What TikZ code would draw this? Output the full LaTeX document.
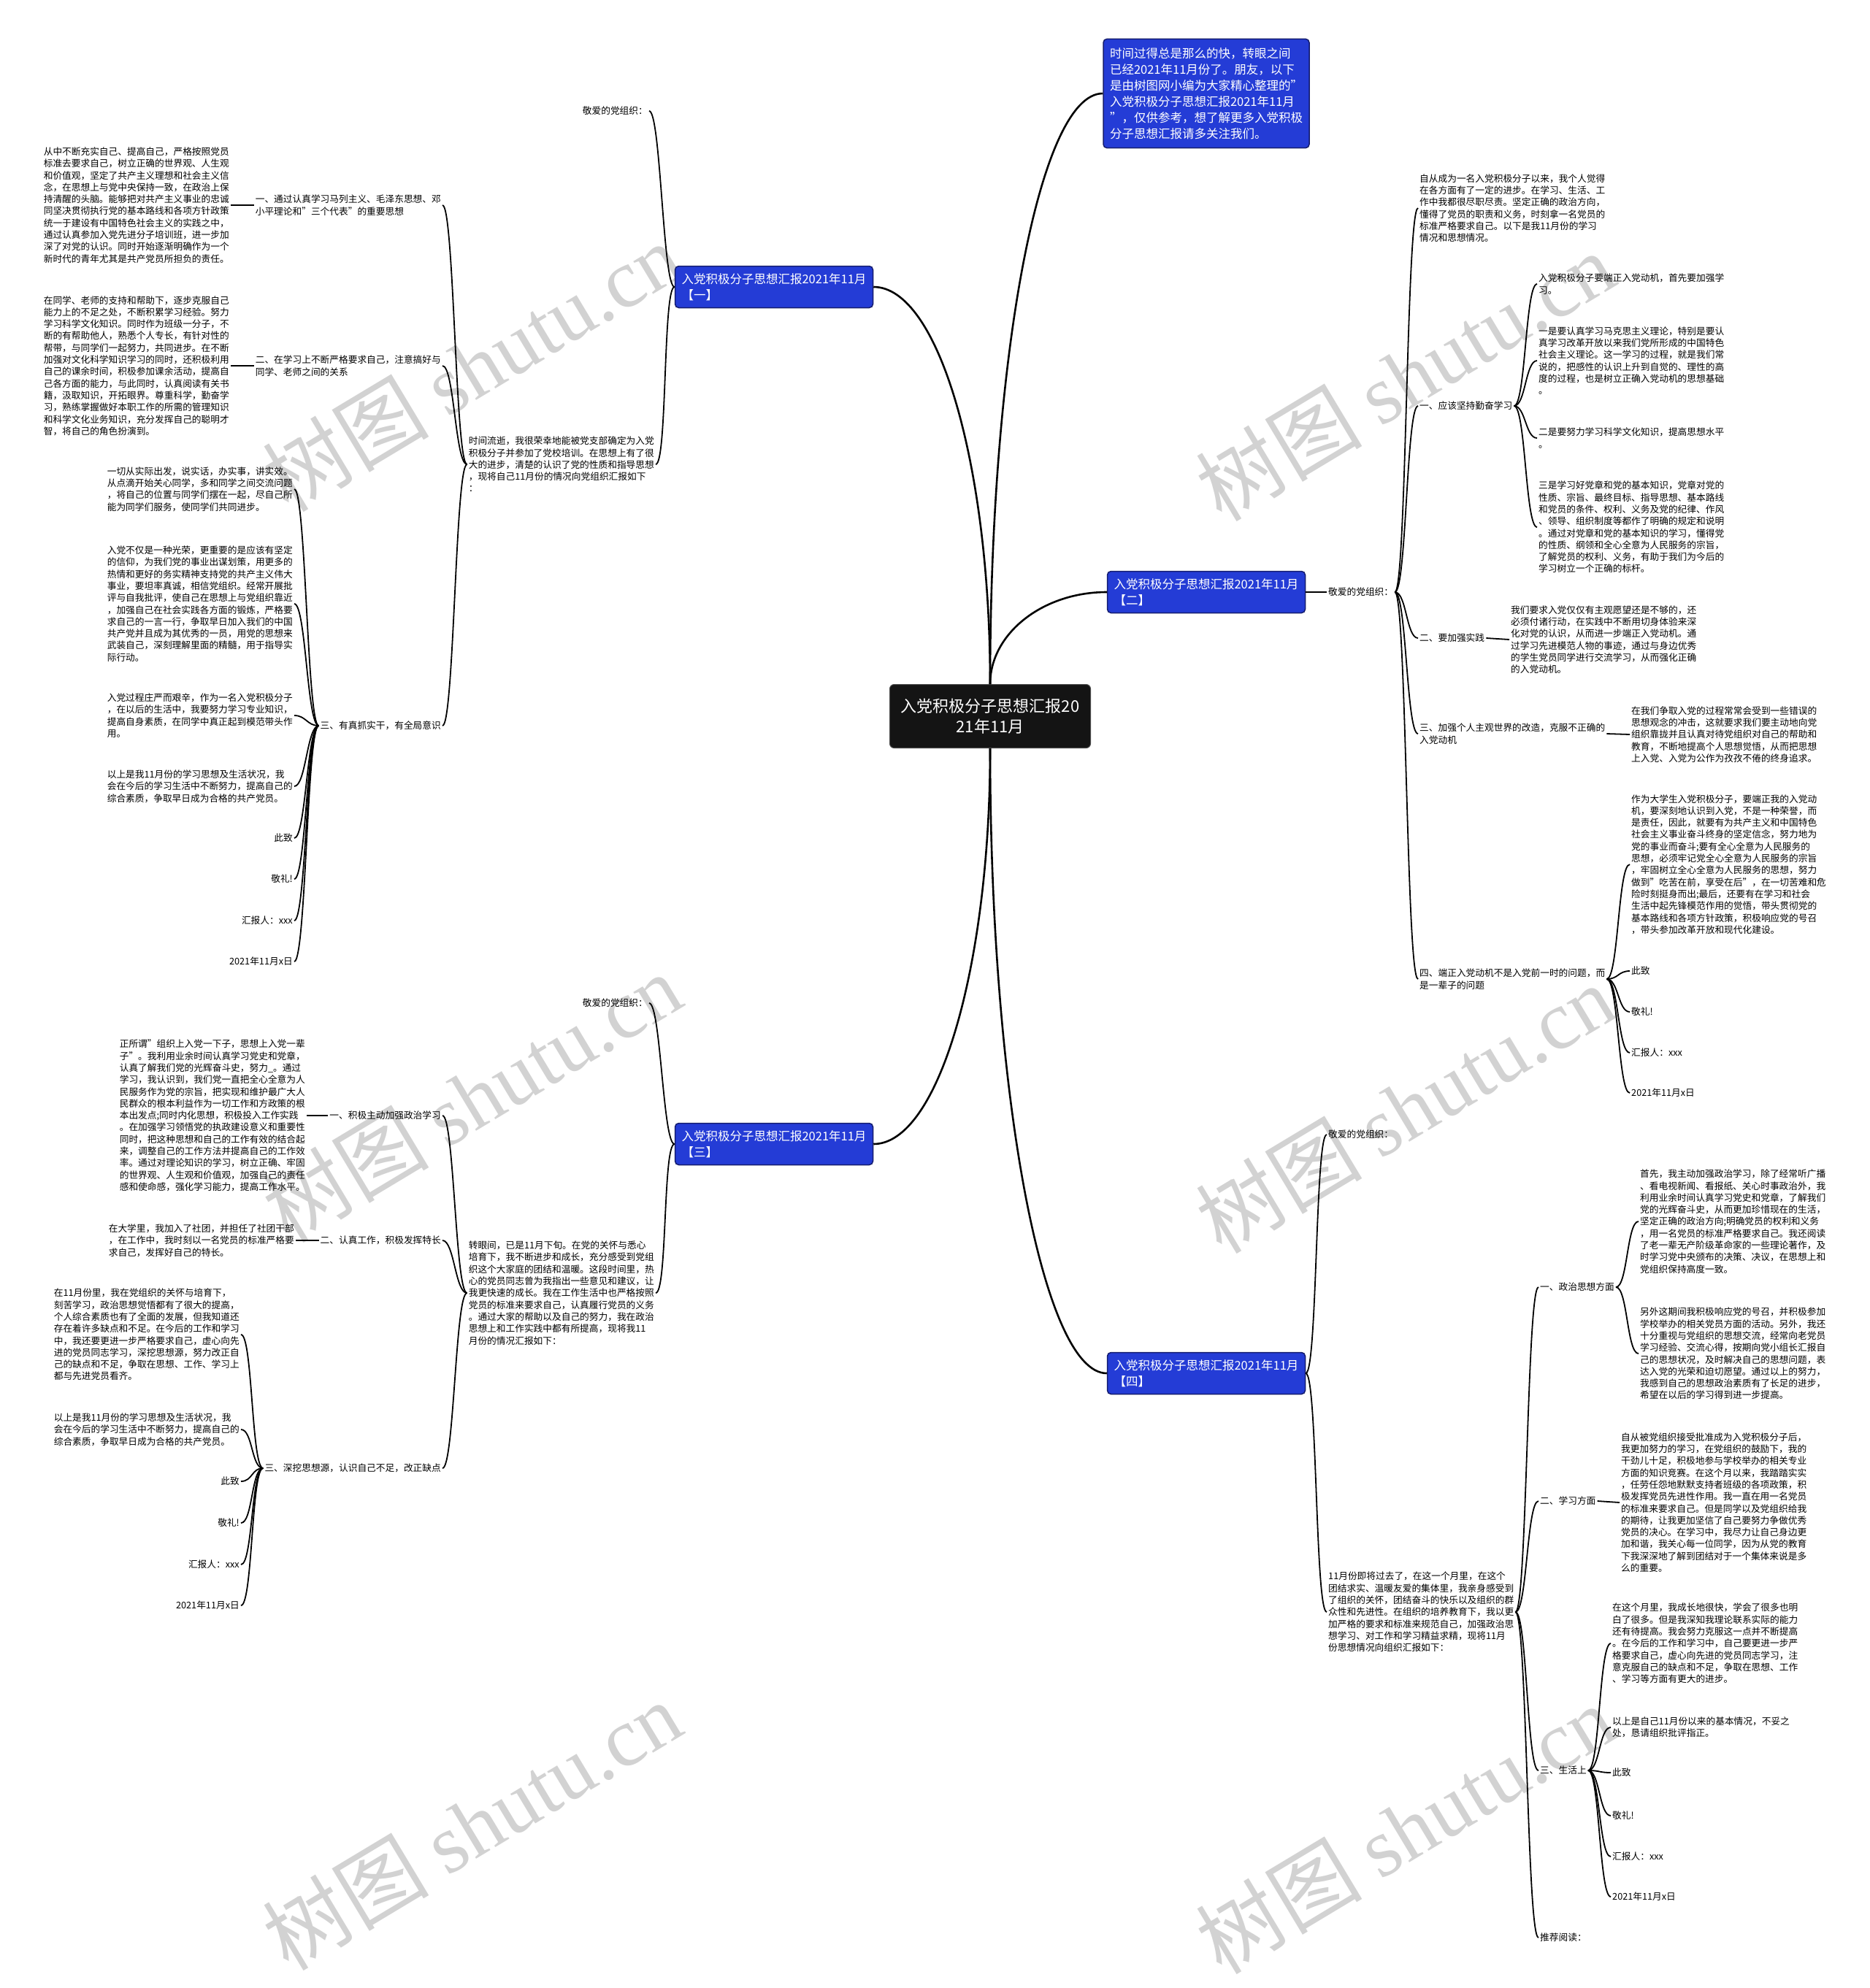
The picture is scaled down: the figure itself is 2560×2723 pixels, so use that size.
\documentclass[tikz,border=0pt]{standalone}
\usepackage{fontspec}
\setmainfont{Noto Sans CJK SC}
\newfontfamily\wmlatin{Liberation Serif}
\usetikzlibrary{positioning}
\definecolor{topicblue}{RGB}{36,60,214}
\definecolor{topicline}{RGB}{20,28,110}
\definecolor{wmgray}{RGB}{210,210,210}
\tikzset{
  rootbox/.style={fill=black!92, draw=black!70, line width=1pt, rounded corners=6pt,
    text=white, align=center, minimum width=275pt, minimum height=87pt,
    inner sep=8pt, font=\fontsize{22}{28}\selectfont},
  topicbox/.style={fill=topicblue, draw=topicline, line width=1.5pt, rounded corners=5pt,
    text=white, align=left, minimum width=271pt, minimum height=57pt,
    inner xsep=9pt, inner ysep=8pt, font=\fontsize{16.5}{22}\selectfont},
  note/.style={align=left, inner sep=2pt, font=\fontsize{12.7}{16.3}\selectfont},
  trunk/.style={line width=2.6pt},
  twig/.style={line width=1.8pt},
  wmark/.style={text=wmgray, rotate=31, inner sep=0pt, font=\fontsize{114}{118}\selectfont}
}
\begin{document}
\begin{tikzpicture}[x=1pt, y=-1pt]
  \useasboundingbox (0,0) rectangle (2560,2723);
  %% Watermarks
  \foreach \wx/\wy [count=\k] in {646/502,1924/515,646/1503,1924/1518,646/2500,1924/2505}
    \node[wmark] (wm\k) at (\wx,\wy) {树图 {\wmlatin shutu.cn}};

  %% Root and intro
  \node[rootbox] (root) at (1356,981) {入党积极分子思想汇报20\\21年11月};
  \node[topicbox, minimum width=0pt, inner xsep=9pt, inner ysep=12pt] (intro) at (1652,128)
    {时间过得总是那么的快，转眼之间\\已经2021年11月份了。朋友，以下\\是由树图网小编为大家精心整理的"\\入党积极分子思想汇报2021年11月\\"，仅供参考，想了解更多入党积极\\分子思想汇报请多关注我们。};

  %% Four topic boxes
  \node[topicbox] (b1) at (1060,393) {入党积极分子思想汇报2021年11月\\【一】};
  \node[topicbox] (b2) at (1652,811) {入党积极分子思想汇报2021年11月\\【二】};
  \node[topicbox] (b3) at (1060,1567) {入党积极分子思想汇报2021年11月\\【三】};
  \node[topicbox] (b4) at (1652,1881) {入党积极分子思想汇报2021年11月\\【四】};

  \draw[trunk] (root.north) .. controls +(0,-446) and +(-87,0) .. (intro.west);
  \draw[trunk] (root.north) .. controls +(0,-300) and +(89,0) .. (b1.east);
  \draw[trunk] (root.north) .. controls +(0,-69) and +(-88,0) .. (b2.west);
  \draw[trunk] (root.south) .. controls +(0,298) and +(89,0) .. (b3.east);
  \draw[trunk] (root.south) .. controls +(0,470) and +(-88,0) .. (b4.west);

  %% Branch one (left, top)
  \node[note, anchor=east] (g1) at (889,152) {敬爱的党组织：};
  \node[note, anchor=east] (p1) at (898,636)
    {时间流逝，我很荣幸地能被党支部确定为入党\\积极分子并参加了党校培训。在思想上有了很\\大的进步，清楚的认识了党的性质和指导思想\\，现将自己11月份的情况向党组织汇报如下\\：};
  \node[note, anchor=east] (i11) at (606,281)
    {一、通过认真学习马列主义、毛泽东思想、邓\\小平理论和"三个代表"的重要思想};
  \node[note, anchor=east] (i12) at (606,501)
    {二、在学习上不断严格要求自己，注意搞好与\\同学、老师之间的关系};
  \node[note, anchor=east] (i13) at (606,994) {三、有真抓实干，有全局意识};
  \node[note, anchor=east] (t11) at (316,281)
    {从中不断充实自己、提高自己，严格按照党员\\标准去要求自己，树立正确的世界观、人生观\\和价值观，坚定了共产主义理想和社会主义信\\念，在思想上与党中央保持一致，在政治上保\\持清醒的头脑。能够把对共产主义事业的忠诚\\同坚决贯彻执行党的基本路线和各项方针政策\\统一于建设有中国特色社会主义的实践之中，\\通过认真参加入党先进分子培训班，进一步加\\深了对党的认识。同时开始逐渐明确作为一个\\新时代的青年尤其是共产党员所担负的责任。};
  \node[note, anchor=east] (t12) at (316,501)
    {在同学、老师的支持和帮助下，逐步克服自己\\能力上的不足之处，不断积累学习经验。努力\\学习科学文化知识。同时作为班级一分子，不\\断的有帮助他人，熟悉个人专长，有针对性的\\帮带，与同学们一起努力，共同进步。在不断\\加强对文化科学知识学习的同时，还积极利用\\自己的课余时间，积极参加课余活动，提高自\\己各方面的能力，与此同时，认真阅读有关书\\籍，汲取知识，开拓眼界。尊重科学，勤奋学\\习，熟练掌握做好本职工作的所需的管理知识\\和科学文化业务知识，充分发挥自己的聪明才\\智，将自己的角色扮演到。};
  \node[note, anchor=east] (t13a) at (403,670)
    {一切从实际出发，说实话，办实事，讲实效。\\从点滴开始关心同学，多和同学之间交流问题\\，将自己的位置与同学们摆在一起，尽自己所\\能为同学们服务，使同学们共同进步。};
  \node[note, anchor=east] (t13b) at (403,827)
    {入党不仅是一种光荣，更重要的是应该有坚定\\的信仰，为我们党的事业出谋划策，用更多的\\热情和更好的务实精神支持党的共产主义伟大\\事业，要坦率真诚，相信党组织。经常开展批\\评与自我批评，使自己在思想上与党组织靠近\\，加强自己在社会实践各方面的锻炼，严格要\\求自己的一言一行，争取早日加入我们的中国\\共产党并且成为其优秀的一员，用党的思想来\\武装自己，深刻理解里面的精髓，用于指导实\\际行动。};
  \node[note, anchor=east] (t13c) at (403,980)
    {入党过程庄严而艰辛，作为一名入党积极分子\\，在以后的生活中，我要努力学习专业知识，\\提高自身素质，在同学中真正起到模范带头作\\用。};
  \node[note, anchor=east] (t13d) at (403,1077)
    {以上是我11月份的学习思想及生活状况，我\\会在今后的学习生活中不断努力，提高自己的\\综合素质，争取早日成为合格的共产党员。};
  \node[note, anchor=east] (t13e) at (403,1148) {此致};
  \node[note, anchor=east] (t13f) at (403,1204) {敬礼!};
  \node[note, anchor=east] (t13g) at (403,1261) {汇报人：xxx};
  \node[note, anchor=east] (t13h) at (403,1317) {2021年11月x日};

  \foreach \c in {g1,p1}
    \draw[twig] (b1.west) .. controls +(-16,0) and +(16,0) .. (\c.east);
  \foreach \c in {i11,i12,i13}
    \draw[twig] (p1.west) .. controls +(-16,0) and +(16,0) .. (\c.east);
  \draw[twig] (i11.west) -- (t11.east);
  \draw[twig] (i12.west) -- (t12.east);
  \foreach \c in {t13a,t13b,t13c,t13d,t13e,t13f,t13g,t13h}
    \draw[twig] (i13.west) .. controls +(-16,0) and +(16,0) .. (\c.east);

  %% Branch two (right, top)
  \node[note, anchor=west] (g2) at (1817,811) {敬爱的党组织：};
  \node[note, anchor=west] (p2) at (1942,285)
    {自从成为一名入党积极分子以来，我个人觉得\\在各方面有了一定的进步。在学习、生活、工\\作中我都很尽职尽责。坚定正确的政治方向，\\懂得了党员的职责和义务，时刻拿一名党员的\\标准严格要求自己。以下是我11月份的学习\\情况和思想情况。};
  \node[note, anchor=west] (i21) at (1942,556) {一、应该坚持勤奋学习};
  \node[note, anchor=west] (c21a) at (2105,389) {入党积极分子要端正入党动机，首先要加强学\\习。};
  \node[note, anchor=west] (c21b) at (2105,494)
    {一是要认真学习马克思主义理论，特别是要认\\真学习改革开放以来我们党所形成的中国特色\\社会主义理论。这一学习的过程，就是我们常\\说的，把感性的认识上升到自觉的、理性的高\\度的过程，也是树立正确入党动机的思想基础\\。};
  \node[note, anchor=west] (c21c) at (2105,600) {二是要努力学习科学文化知识，提高思想水平\\。};
  \node[note, anchor=west] (c21d) at (2105,722)
    {三是学习好党章和党的基本知识，党章对党的\\性质、宗旨、最终目标、指导思想、基本路线\\和党员的条件、权利、义务及党的纪律、作风\\、领导、组织制度等都作了明确的规定和说明\\。通过对党章和党的基本知识的学习，懂得党\\的性质、纲领和全心全意为人民服务的宗旨，\\了解党员的权利、义务，有助于我们为今后的\\学习树立一个正确的标杆。};
  \node[note, anchor=west] (i22) at (1942,874) {二、要加强实践};
  \node[note, anchor=west] (c22) at (2067,876)
    {我们要求入党仅仅有主观愿望还是不够的，还\\必须付诸行动，在实践中不断用切身体验来深\\化对党的认识，从而进一步端正入党动机。通\\过学习先进模范人物的事迹，通过与身边优秀\\的学生党员同学进行交流学习，从而强化正确\\的入党动机。};
  \node[note, anchor=west] (i23) at (1942,1005) {三、加强个人主观世界的改造，克服不正确的\\入党动机};
  \node[note, anchor=west] (c23) at (2232,1006)
    {在我们争取入党的过程常常会受到一些错误的\\思想观念的冲击，这就要求我们要主动地向党\\组织靠拢并且认真对待党组织对自己的帮助和\\教育，不断地提高个人思想觉悟，从而把思想\\上入党、入党为公作为孜孜不倦的终身追求。};
  \node[note, anchor=west] (i24) at (1942,1341) {四、端正入党动机不是入党前一时的问题，而\\是一辈子的问题};
  \node[note, anchor=west] (c24a) at (2232,1184)
    {作为大学生入党积极分子，要端正我的入党动\\机，要深刻地认识到入党，不是一种荣誉，而\\是责任，因此，就要有为共产主义和中国特色\\社会主义事业奋斗终身的坚定信念，努力地为\\党的事业而奋斗;要有全心全意为人民服务的\\思想，必须牢记党全心全意为人民服务的宗旨\\，牢固树立全心全意为人民服务的思想，努力\\做到"吃苦在前，享受在后"，在一切苦难和危\\险时刻挺身而出;最后，还要有在学习和社会\\生活中起先锋模范作用的觉悟，带头贯彻党的\\基本路线和各项方针政策，积极响应党的号召\\，带头参加改革开放和现代化建设。};
  \node[note, anchor=west] (c24b) at (2232,1330) {此致};
  \node[note, anchor=west] (c24c) at (2232,1386) {敬礼!};
  \node[note, anchor=west] (c24d) at (2232,1442) {汇报人：xxx};
  \node[note, anchor=west] (c24e) at (2232,1497) {2021年11月x日};

  \draw[twig] (b2.east) -- (g2.west);
  \foreach \c in {p2,i21,i22,i23,i24}
    \draw[twig] (g2.east) .. controls +(16,0) and +(-16,0) .. (\c.west);
  \foreach \c in {c21a,c21b,c21c,c21d}
    \draw[twig] (i21.east) .. controls +(16,0) and +(-16,0) .. (\c.west);
  \draw[twig] (i22.east) -- (c22.west);
  \draw[twig] (i23.east) -- (c23.west);
  \foreach \c in {c24a,c24b,c24c,c24d,c24e}
    \draw[twig] (i24.east) .. controls +(16,0) and +(-16,0) .. (\c.west);

  %% Branch three (left, bottom)
  \node[note, anchor=east] (g3) at (889,1374) {敬爱的党组织：};
  \node[note, anchor=east] (p3) at (898,1771)
    {转眼间，已是11月下旬。在党的关怀与悉心\\培育下，我不断进步和成长，充分感受到党组\\织这个大家庭的团结和温暖。这段时间里，热\\心的党员同志曾为我指出一些意见和建议，让\\我更快速的成长。我在工作生活中也严格按照\\党员的标准来要求自己，认真履行党员的义务\\。通过大家的帮助以及自己的努力，我在政治\\思想上和工作实践中都有所提高，现将我11\\月份的情况汇报如下：};
  \node[note, anchor=east] (i31) at (606,1528) {一、积极主动加强政治学习};
  \node[note, anchor=east] (i32) at (606,1699) {二、认真工作，积极发挥特长};
  \node[note, anchor=east] (i33) at (606,2011) {三、深挖思想源，认识自己不足，改正缺点};
  \node[note, anchor=east] (t31) at (420,1528)
    {正所谓"组织上入党一下子，思想上入党一辈\\子"。我利用业余时间认真学习党史和党章，\\认真了解我们党的光辉奋斗史，努力\_。通过\\学习，我认识到，我们党一直把全心全意为人\\民服务作为党的宗旨，把实现和维护最广大人\\民群众的根本利益作为一切工作和方政策的根\\本出发点;同时内化思想，积极投入工作实践\\。在加强学习领悟党的执政建设意义和重要性\\同时，把这种思想和自己的工作有效的结合起\\来，调整自己的工作方法并提高自己的工作效\\率。通过对理论知识的学习，树立正确、牢固\\的世界观、人生观和价值观，加强自己的责任\\感和使命感，强化学习能力，提高工作水平。};
  \node[note, anchor=east] (t32) at (405,1699)
    {在大学里，我加入了社团，并担任了社团干部\\，在工作中，我时刻以一名党员的标准严格要\\求自己，发挥好自己的特长。};
  \node[note, anchor=east] (t33a) at (330,1828)
    {在11月份里，我在党组织的关怀与培育下，\\刻苦学习，政治思想觉悟都有了很大的提高，\\个人综合素质也有了全面的发展，但我知道还\\存在着许多缺点和不足。在今后的工作和学习\\中，我还要更进一步严格要求自己，虚心向先\\进的党员同志学习，深挖思想源，努力改正自\\己的缺点和不足，争取在思想、工作、学习上\\都与先进党员看齐。};
  \node[note, anchor=east] (t33b) at (330,1958)
    {以上是我11月份的学习思想及生活状况，我\\会在今后的学习生活中不断努力，提高自己的\\综合素质，争取早日成为合格的共产党员。};
  \node[note, anchor=east] (t33c) at (330,2029) {此致};
  \node[note, anchor=east] (t33d) at (330,2086) {敬礼!};
  \node[note, anchor=east] (t33e) at (330,2143) {汇报人：xxx};
  \node[note, anchor=east] (t33f) at (330,2199) {2021年11月x日};

  \foreach \c in {g3,p3}
    \draw[twig] (b3.west) .. controls +(-16,0) and +(16,0) .. (\c.east);
  \foreach \c in {i31,i32,i33}
    \draw[twig] (p3.west) .. controls +(-16,0) and +(16,0) .. (\c.east);
  \draw[twig] (i31.west) -- (t31.east);
  \draw[twig] (i32.west) -- (t32.east);
  \foreach \c in {t33a,t33b,t33c,t33d,t33e,t33f}
    \draw[twig] (i33.west) .. controls +(-16,0) and +(16,0) .. (\c.east);

  %% Branch four (right, bottom)
  \node[note, anchor=west] (g4) at (1817,1554) {敬爱的党组织：};
  \node[note, anchor=west] (p4) at (1817,2208)
    {11月份即将过去了，在这一个月里，在这个\\团结求实、温暖友爱的集体里，我亲身感受到\\了组织的关怀，团结奋斗的快乐以及组织的群\\众性和先进性。在组织的培养教育下，我以更\\加严格的要求和标准来规范自己，加强政治思\\想学习、对工作和学习精益求精，现将11月\\份思想情况向组织汇报如下：};
  \node[note, anchor=west] (i41) at (2107,1763) {一、政治思想方面};
  \node[note, anchor=west] (c41a) at (2244,1673)
    {首先，我主动加强政治学习，除了经常听广播\\、看电视新闻、看报纸、关心时事政治外，我\\利用业余时间认真学习党史和党章，了解我们\\党的光辉奋斗史，从而更加珍惜现在的生活，\\坚定正确的政治方向;明确党员的权利和义务\\，用一名党员的标准严格要求自己。我还阅读\\了老一辈无产阶级革命家的一些理论著作，及\\时学习党中央颁布的决策、决议，在思想上和\\党组织保持高度一致。};
  \node[note, anchor=west] (c41b) at (2244,1854)
    {另外这期间我积极响应党的号召，并积极参加\\学校举办的相关党员方面的活动。另外，我还\\十分重视与党组织的思想交流，经常向老党员\\学习经验、交流心得，按期向党小组长汇报自\\己的思想状况，及时解决自己的思想问题，表\\达入党的光荣和迫切愿望。通过以上的努力，\\我感到自己的思想政治素质有了长足的进步，\\希望在以后的学习得到进一步提高。};
  \node[note, anchor=west] (i42) at (2107,2056) {二、学习方面};
  \node[note, anchor=west] (c42) at (2218,2058)
    {自从被党组织接受批准成为入党积极分子后，\\我更加努力的学习，在党组织的鼓励下，我的\\干劲儿十足，积极地参与学校举办的相关专业\\方面的知识竞赛。在这个月以来，我踏踏实实\\，任劳任怨地默默支持者班级的各项政策，积\\极发挥党员先进性作用。我一直在用一名党员\\的标准来要求自己。但是同学以及党组织给我\\的期待，让我更加坚信了自己要努力争做优秀\\党员的决心。在学习中，我尽力让自己身边更\\加和谐，我关心每一位同学，因为从党的教育\\下我深深地了解到团结对于一个集体来说是多\\么的重要。};
  \node[note, anchor=west] (i43) at (2107,2425) {三、生活上};
  \node[note, anchor=west] (c43a) at (2206,2251)
    {在这个月里，我成长地很快，学会了很多也明\\白了很多。但是我深知我理论联系实际的能力\\还有待提高。我会努力克服这一点并不断提高\\。在今后的工作和学习中，自己要更进一步严\\格要求自己，虚心向先进的党员同志学习，注\\意克服自己的缺点和不足，争取在思想、工作\\、学习等方面有更大的进步。};
  \node[note, anchor=west] (c43b) at (2206,2366) {以上是自己11月份以来的基本情况，不妥之\\处，恳请组织批评指正。};
  \node[note, anchor=west] (c43c) at (2206,2428) {此致};
  \node[note, anchor=west] (c43d) at (2206,2487) {敬礼!};
  \node[note, anchor=west] (c43e) at (2206,2543) {汇报人：xxx};
  \node[note, anchor=west] (c43f) at (2206,2598) {2021年11月x日};
  \node[note, anchor=west] (i44) at (2107,2654) {推荐阅读：};

  \foreach \c in {g4,p4}
    \draw[twig] (b4.east) .. controls +(16,0) and +(-16,0) .. (\c.west);
  \foreach \c in {i41,i42,i43,i44}
    \draw[twig] (p4.east) .. controls +(16,0) and +(-16,0) .. (\c.west);
  \foreach \c in {c41a,c41b}
    \draw[twig] (i41.east) .. controls +(16,0) and +(-16,0) .. (\c.west);
  \draw[twig] (i42.east) -- (c42.west);
  \foreach \c in {c43a,c43b,c43c,c43d,c43e,c43f}
    \draw[twig] (i43.east) .. controls +(16,0) and +(-16,0) .. (\c.west);
\end{tikzpicture}
\end{document}
